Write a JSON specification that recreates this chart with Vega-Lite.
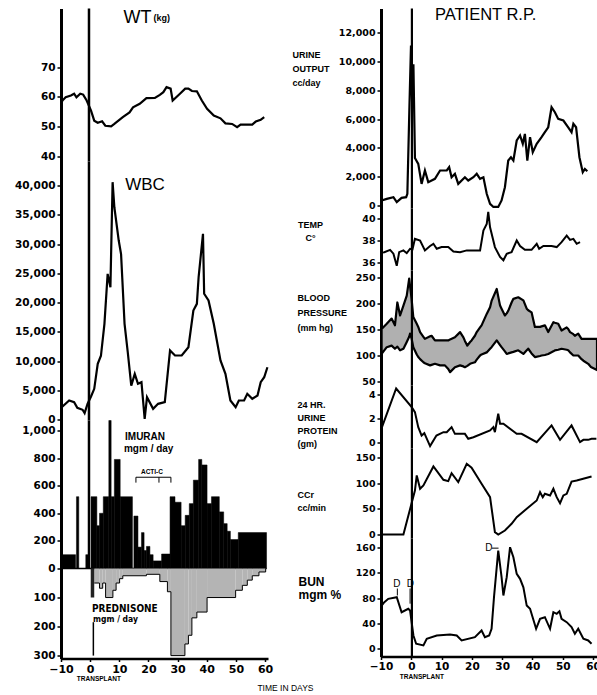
{
"$schema": "https://vega.github.io/schema/vega-lite/v6.json",
"background": "white",
"padding": {"left": 14, "top": 6.5, "right": 0, "bottom": 2},
"autosize": {"type": "pad"},
"title": {"text": "TIME IN DAYS", "orient": "bottom", "anchor": "middle", "font": "Liberation Sans", "fontSize": 8.5, "fontWeight": "normal", "color": "black", "dx": -22, "offset": 2},
"config": {
  "view": {"stroke": null},
  "font": "Liberation Sans",
  "axis": {"domainColor": "black", "domainWidth": 3, "tickColor": "black", "tickWidth": 1.5, "tickSize": 4, "labelColor": "black", "labelFont": "DejaVu Sans", "labelFontWeight": "bold", "labelFontSize": 10.5, "labelPadding": 2, "grid": false, "titleColor": "black", "labelFlush": false, "labelOverlap": false, "labelBound": false}
},
"datasets": {
  "wt": [{"day":-10,"v":57.7},{"day":-9.5,"v":58.8},{"day":-8.4,"v":59.9},{"day":-6.6,"v":60.5},{"day":-5.5,"v":61.1},{"day":-4.7,"v":59.9},{"day":-3.4,"v":61.1},{"day":-2.4,"v":60.8},{"day":-1.2,"v":58.8},{"day":0.3,"v":55.4},{"day":1.4,"v":52.0},{"day":2.6,"v":51.3},{"day":4.1,"v":51.8},{"day":5.2,"v":50.3},{"day":7.2,"v":50.1},{"day":8.3,"v":50.9},{"day":11.2,"v":53.2},{"day":13.5,"v":54.8},{"day":14.7,"v":56.5},{"day":17.0,"v":57.7},{"day":19.3,"v":59.6},{"day":22.2,"v":59.7},{"day":23.9,"v":60.7},{"day":25.1,"v":61.6},{"day":26.2,"v":63.3},{"day":27.6,"v":62.8},{"day":28.3,"v":58.8},{"day":30.8,"v":61.1},{"day":32.6,"v":62.8},{"day":33.7,"v":62.8},{"day":34.9,"v":62.0},{"day":36.6,"v":61.9},{"day":38.3,"v":58.8},{"day":40.1,"v":56.0},{"day":42.4,"v":53.7},{"day":44.7,"v":52.8},{"day":46.4,"v":51.1},{"day":48.7,"v":50.9},{"day":50.4,"v":49.8},{"day":51.6,"v":50.7},{"day":55.6,"v":50.7},{"day":56.8,"v":51.7},{"day":58.5,"v":52.3},{"day":59.7,"v":53.2}],
  "wbc": [{"day":-10,"v":2300},{"day":-9.5,"v":2220},{"day":-7.2,"v":3250},{"day":-5.5,"v":2960},{"day":-4.4,"v":2000},{"day":-2.6,"v":1660},{"day":-1.9,"v":1080},{"day":-0.9,"v":2680},{"day":0.3,"v":3930},{"day":1.4,"v":5250},{"day":2.6,"v":9520},{"day":3.7,"v":10900},{"day":4.9,"v":16360},{"day":6.0,"v":24900},{"day":6.95,"v":22600},{"day":7.7,"v":40580},{"day":8.3,"v":36300},{"day":9.8,"v":30600},{"day":10.6,"v":28300},{"day":11.8,"v":16360},{"day":12.9,"v":11500},{"day":14.1,"v":5800},{"day":15.3,"v":7800},{"day":16.4,"v":6100},{"day":17.6,"v":6380},{"day":18.7,"v":120},{"day":19.5,"v":3810},{"day":21.6,"v":1830},{"day":23.3,"v":2680},{"day":25.6,"v":2960},{"day":27.4,"v":11800},{"day":29.1,"v":10940},{"day":31.4,"v":10940},{"day":33.7,"v":12360},{"day":35.4,"v":18640},{"day":36.6,"v":19780},{"day":37.2,"v":24330},{"day":38.7,"v":31750},{"day":39.1,"v":21500},{"day":40.6,"v":20350},{"day":42.4,"v":16360},{"day":44.7,"v":10090},{"day":46.4,"v":7800},{"day":48.1,"v":3250},{"day":49.9,"v":2100},{"day":51.0,"v":3250},{"day":52.8,"v":3250},{"day":53.9,"v":4390},{"day":55.6,"v":3540},{"day":57.4,"v":4100},{"day":58.5,"v":6380},{"day":59.7,"v":7230},{"day":60.8,"v":8940}],
  "imu": [{"day":-10,"day2":-5,"v":100},{"day":-4.7,"day2":-3.9,"v":520},{"day":-1.5,"day2":-0.6,"v":100},{"day":0.3,"day2":2.3,"v":520},{"day":2.3,"day2":3.2,"v":310},{"day":3.2,"day2":4.5,"v":400},{"day":4.5,"day2":6.4,"v":520},{"day":6.4,"day2":7.2,"v":1072},{"day":7.2,"day2":8.3,"v":520},{"day":8.3,"day2":10.3,"v":790},{"day":10.3,"day2":14.5,"v":520},{"day":15.0,"day2":16.4,"v":380},{"day":16.4,"day2":17.6,"v":155},{"day":17.6,"day2":18.5,"v":260},{"day":18.5,"day2":19.3,"v":130},{"day":19.3,"day2":20.5,"v":160},{"day":20.5,"day2":21.6,"v":100},{"day":21.6,"day2":24.5,"v":55},{"day":24.5,"day2":27.4,"v":105},{"day":27.4,"day2":29.1,"v":520},{"day":29.1,"day2":31.2,"v":480},{"day":31.2,"day2":32.6,"v":310},{"day":32.6,"day2":34.0,"v":385},{"day":34.0,"day2":35.4,"v":470},{"day":35.4,"day2":37.2,"v":640},{"day":37.2,"day2":38.3,"v":790},{"day":38.3,"day2":40.1,"v":750},{"day":40.1,"day2":41.6,"v":470},{"day":41.6,"day2":44.3,"v":520},{"day":44.3,"day2":45.8,"v":410},{"day":45.8,"day2":47.0,"v":325},{"day":47.0,"day2":48.1,"v":270},{"day":48.1,"day2":50.8,"v":210},{"day":50.8,"day2":60.5,"v":260}],
  "pred": [{"day":1.4,"day2":3.2,"v":50},{"day":3.2,"day2":4.3,"v":68},{"day":4.3,"day2":5.3,"v":50},{"day":5.3,"day2":7.8,"v":100},{"day":7.8,"day2":8.9,"v":75},{"day":8.9,"day2":10.1,"v":50},{"day":10.1,"day2":11.2,"v":35},{"day":11.2,"day2":19.3,"v":25},{"day":19.3,"day2":23.9,"v":20},{"day":23.9,"day2":26.5,"v":45},{"day":26.5,"day2":27.7,"v":80},{"day":27.7,"day2":32.5,"v":300},{"day":32.5,"day2":33.7,"v":260},{"day":33.7,"day2":34.9,"v":230},{"day":34.9,"day2":36.6,"v":170},{"day":36.6,"day2":40.1,"v":150},{"day":40.1,"day2":49.9,"v":100},{"day":49.9,"day2":52.2,"v":75},{"day":52.2,"day2":53.9,"v":58},{"day":53.9,"day2":55.6,"v":40},{"day":55.6,"day2":57.9,"v":25},{"day":57.9,"day2":60.2,"v":12},{"day":60.2,"day2":60.2,"v":0}],
  "urine": [{"day":-9.8,"v":350},{"day":-8.1,"v":460},{"day":-5.9,"v":580},{"day":-4.8,"v":230},{"day":-3.2,"v":530},{"day":-1.7,"v":580},{"day":-1.3,"v":810},{"day":-0.6,"v":7000},{"day":-0.1,"v":11100},{"day":0.3,"v":6800},{"day":0.7,"v":9800},{"day":1.2,"v":3300},{"day":2.3,"v":2890},{"day":3.4,"v":1500},{"day":4.5,"v":2430},{"day":5.6,"v":1620},{"day":7.8,"v":1850},{"day":9.5,"v":2430},{"day":11.7,"v":2430},{"day":12.5,"v":2660},{"day":13.3,"v":1960},{"day":14.4,"v":2200},{"day":15.5,"v":1500},{"day":17.7,"v":1960},{"day":18.8,"v":1735},{"day":20.5,"v":1960},{"day":21.6,"v":2200},{"day":22.7,"v":1850},{"day":23.8,"v":1960},{"day":24.9,"v":810},{"day":26.0,"v":120},{"day":27.1,"v":-100},{"day":28.7,"v":-100},{"day":29.8,"v":350},{"day":30.9,"v":1270},{"day":32.0,"v":3120},{"day":32.9,"v":3350},{"day":33.7,"v":3120},{"day":34.8,"v":4510},{"day":35.9,"v":4860},{"day":36.8,"v":4280},{"day":37.5,"v":4970},{"day":38.3,"v":3120},{"day":39.2,"v":4740},{"day":40.1,"v":3700},{"day":41.4,"v":4280},{"day":43.0,"v":4740},{"day":44.1,"v":5090},{"day":45.2,"v":5430},{"day":46.3,"v":6820},{"day":47.4,"v":6475},{"day":48.5,"v":6010},{"day":50.2,"v":5900},{"day":51.8,"v":5430},{"day":52.9,"v":5090},{"day":53.5,"v":5670},{"day":54.4,"v":5430},{"day":55.5,"v":3350},{"day":56.6,"v":2310},{"day":57.3,"v":2540},{"day":58.1,"v":2380}],
  "temp": [{"day":-9.8,"v":36.9},{"day":-8.9,"v":36.94},{"day":-7.0,"v":37.15},{"day":-5.9,"v":36.8},{"day":-4.8,"v":35.7},{"day":-4.0,"v":36.94},{"day":-2.6,"v":37.1},{"day":-1.5,"v":36.85},{"day":-0.4,"v":37.25},{"day":0.4,"v":37.2},{"day":1.2,"v":38.15},{"day":2.9,"v":38.0},{"day":4.5,"v":37.1},{"day":6.2,"v":37.5},{"day":7.3,"v":37.7},{"day":8.4,"v":37.25},{"day":10.0,"v":37.4},{"day":12.2,"v":37.4},{"day":13.9,"v":37.0},{"day":16.1,"v":36.94},{"day":18.3,"v":37.1},{"day":21.0,"v":37.1},{"day":22.7,"v":37.1},{"day":23.8,"v":38.9},{"day":24.9,"v":39.5},{"day":25.4,"v":40.6},{"day":26.0,"v":39.2},{"day":27.6,"v":37.4},{"day":29.3,"v":36.5},{"day":30.4,"v":36.2},{"day":31.5,"v":36.8},{"day":33.1,"v":36.94},{"day":34.8,"v":38.0},{"day":35.9,"v":37.5},{"day":37.5,"v":37.15},{"day":39.7,"v":37.15},{"day":41.4,"v":37.7},{"day":42.2,"v":37.25},{"day":43.6,"v":37.5},{"day":46.3,"v":37.5},{"day":48.0,"v":37.4},{"day":49.6,"v":37.85},{"day":51.3,"v":38.45},{"day":52.4,"v":38.06},{"day":53.5,"v":38.15},{"day":54.6,"v":37.7},{"day":55.7,"v":37.85}],
  "bp": [{"day":-9.8,"v":151,"v2":103},{"day":-8.1,"v":161,"v2":116},{"day":-6.5,"v":171,"v2":119},{"day":-5.4,"v":158,"v2":113},{"day":-4.6,"v":202,"v2":117},{"day":-3.7,"v":177,"v2":110},{"day":-2.6,"v":196,"v2":113},{"day":-1.5,"v":215,"v2":126},{"day":-0.7,"v":248,"v2":136},{"day":-0.4,"v":233,"v2":142},{"day":0.1,"v":209,"v2":133},{"day":0.66,"v":174,"v2":116},{"day":1.8,"v":161,"v2":102},{"day":2.3,"v":155,"v2":97},{"day":2.9,"v":145,"v2":93},{"day":4.0,"v":136,"v2":87},{"day":4.5,"v":132,"v2":85},{"day":6.2,"v":137,"v2":81},{"day":6.7,"v":138,"v2":82},{"day":7.8,"v":129,"v2":84},{"day":9.5,"v":129,"v2":81},{"day":11.1,"v":129,"v2":81},{"day":12.2,"v":129,"v2":74},{"day":12.8,"v":131,"v2":68},{"day":14.4,"v":135,"v2":77.5},{"day":16.1,"v":145,"v2":81},{"day":17.2,"v":135,"v2":79},{"day":17.7,"v":128,"v2":77.5},{"day":18.5,"v":119,"v2":80},{"day":19.4,"v":126,"v2":84},{"day":19.9,"v":129,"v2":85},{"day":21.0,"v":138,"v2":87},{"day":21.6,"v":145,"v2":92},{"day":22.7,"v":154,"v2":100},{"day":23.2,"v":158,"v2":102},{"day":24.9,"v":180,"v2":106},{"day":26.0,"v":193,"v2":113},{"day":26.5,"v":205,"v2":116},{"day":28.2,"v":228,"v2":129},{"day":29.3,"v":196,"v2":120},{"day":29.8,"v":190,"v2":116},{"day":30.9,"v":177,"v2":108},{"day":31.5,"v":181,"v2":103},{"day":32.0,"v":186,"v2":104},{"day":33.1,"v":202,"v2":106},{"day":33.7,"v":209,"v2":107},{"day":35.3,"v":212,"v2":110},{"day":37.0,"v":206,"v2":103},{"day":38.1,"v":190,"v2":110},{"day":38.6,"v":187,"v2":113},{"day":39.7,"v":183,"v2":104},{"day":40.8,"v":155,"v2":97},{"day":42.5,"v":155,"v2":99},{"day":43.0,"v":156,"v2":100},{"day":44.1,"v":158,"v2":101},{"day":45.2,"v":145,"v2":103},{"day":46.9,"v":164,"v2":108},{"day":47.4,"v":163,"v2":110},{"day":48.5,"v":161,"v2":111},{"day":49.6,"v":148,"v2":113},{"day":51.3,"v":154,"v2":111},{"day":51.8,"v":151,"v2":110},{"day":52.4,"v":145,"v2":106},{"day":53.5,"v":141,"v2":100},{"day":54.0,"v":138,"v2":100},{"day":55.1,"v":142,"v2":100},{"day":56.2,"v":132,"v2":93},{"day":56.8,"v":132,"v2":90},{"day":58.4,"v":132,"v2":84},{"day":59.3,"v":132,"v2":78},{"day":61.3,"v":132,"v2":72}],
  "prot": [{"day":-9.8,"v":1.2},{"day":-5.0,"v":4.5},{"day":0.13,"v":2.94},{"day":1.2,"v":2.53},{"day":2.3,"v":1.28},{"day":3.4,"v":0.58},{"day":4.3,"v":0.78},{"day":6.2,"v":-0.3},{"day":8.3,"v":0.58},{"day":10.6,"v":0.86},{"day":11.7,"v":0.86},{"day":13.3,"v":1.28},{"day":14.4,"v":0.72},{"day":17.7,"v":0.72},{"day":18.8,"v":0.31},{"day":20.5,"v":0.44},{"day":26.0,"v":1.0},{"day":27.1,"v":1.28},{"day":27.6,"v":0.86},{"day":28.7,"v":2.4},{"day":29.3,"v":1.56},{"day":30.4,"v":1.56},{"day":34.8,"v":0.72},{"day":36.4,"v":0.72},{"day":41.4,"v":0.03},{"day":46.3,"v":1.42},{"day":49.1,"v":0.22},{"day":52.9,"v":1.42},{"day":55.7,"v":0.03},{"day":56.8,"v":0.22},{"day":58.4,"v":0.22},{"day":59.5,"v":0.31},{"day":61.1,"v":0.31}],
  "ccr": [{"day":-9.8,"v":0},{"day":-2.6,"v":0},{"day":1.2,"v":85.7},{"day":1.8,"v":115},{"day":2.9,"v":89},{"day":4.0,"v":95.5},{"day":7.3,"v":132.5},{"day":10.6,"v":106.6},{"day":12.2,"v":103.9},{"day":13.3,"v":119.4},{"day":15.5,"v":102},{"day":18.3,"v":137.7},{"day":19.9,"v":130},{"day":23.2,"v":98.8},{"day":26.0,"v":72.7},{"day":27.6,"v":4.5},{"day":28.7,"v":0},{"day":30.9,"v":7.8},{"day":33.1,"v":20.8},{"day":34.8,"v":33.7},{"day":38.1,"v":50},{"day":41.4,"v":66.2},{"day":42.5,"v":82.4},{"day":43.4,"v":72.7},{"day":44.1,"v":79.3},{"day":45.8,"v":76},{"day":46.9,"v":89},{"day":48.0,"v":72.7},{"day":49.1,"v":61},{"day":50.2,"v":76},{"day":51.3,"v":79.3},{"day":52.9,"v":103},{"day":54.6,"v":105},{"day":59.5,"v":113}],
  "bun": [{"day":-9.8,"v":68},{"day":-8.9,"v":73.4},{"day":-7.6,"v":78.7},{"day":-4.8,"v":81.3},{"day":-3.2,"v":57.5},{"day":-1.0,"v":62.9},{"day":-0.4,"v":60.2},{"day":0.7,"v":20.6},{"day":1.6,"v":7.5},{"day":4.0,"v":4.8},{"day":5.1,"v":15.4},{"day":8.4,"v":20.6},{"day":12.8,"v":22.2},{"day":15.0,"v":20.6},{"day":16.6,"v":12.7},{"day":21.0,"v":17.9},{"day":23.2,"v":28.5},{"day":24.3,"v":17.9},{"day":25.7,"v":20.6},{"day":26.5,"v":31.2},{"day":27.3,"v":81.3},{"day":28.7,"v":155},{"day":29.8,"v":113},{"day":30.4,"v":84},{"day":31.5,"v":113},{"day":32.6,"v":160.5},{"day":33.7,"v":144.6},{"day":34.8,"v":118.3},{"day":35.9,"v":110.4},{"day":37.0,"v":97},{"day":38.1,"v":68},{"day":39.2,"v":62.9},{"day":41.2,"v":31.2},{"day":42.5,"v":47},{"day":44.1,"v":49.6},{"day":45.8,"v":31.2},{"day":46.9,"v":57.5},{"day":48.0,"v":55},{"day":48.9,"v":59},{"day":49.6,"v":47},{"day":51.3,"v":41.7},{"day":52.9,"v":33.8},{"day":54.0,"v":23.3},{"day":55.1,"v":31.2},{"day":56.8,"v":15.4},{"day":58.4,"v":12.7},{"day":59.5,"v":7.5}]
},
"hconcat": [
 {
  "vconcat": [
   {
    "width": 207, "height": 153,
    "encoding": {
      "x": {"field": "day", "type": "quantitative", "scale": {"domain": [-10, 61], "nice": false, "zero": false}, "axis": null},
      "y": {"field": "v", "type": "quantitative", "scale": {"domain": [38.25, 89.8], "nice": false, "zero": false}, "axis": {"values": [40, 50, 60, 70], "title": null}}
    },
    "layer": [
      {"data": {"name": "wt"}, "mark": {"type": "line", "color": "black", "strokeWidth": 2.2}},
      {"data": {"values": [{"day": -0.4, "v": 38.25, "v2": 89.8}]}, "mark": {"type": "rule", "color": "black", "strokeWidth": 2.5}, "encoding": {"y2": {"field": "v2"}}},
      {"data": {"values": [{"day": 11.4, "v": 85.05, "t": "WT"}]}, "mark": {"type": "text", "align": "left", "baseline": "alphabetic", "fontSize": 18, "font": "Liberation Sans", "color": "black"}, "encoding": {"text": {"field": "t"}}},
      {"data": {"values": [{"day": 21.7, "v": 85.7, "t": "(kg)"}]}, "mark": {"type": "text", "align": "left", "baseline": "alphabetic", "fontSize": 9, "fontWeight": "bold", "font": "Liberation Sans", "color": "black"}, "encoding": {"text": {"field": "t"}}}
    ]
   },
   {
    "width": 207, "height": 259,
    "encoding": {
      "x": {"field": "day", "type": "quantitative", "scale": {"domain": [-10, 61], "nice": false, "zero": false}, "axis": null},
      "y": {"field": "v", "type": "quantitative", "scale": {"domain": [-171, 44118], "nice": false, "zero": false}, "axis": {"values": [0, 5000, 10000, 15000, 20000, 25000, 30000, 35000, 40000], "format": ",d", "title": null}}
    },
    "layer": [
      {"data": {"name": "wbc"}, "mark": {"type": "line", "color": "black", "strokeWidth": 2.2}},
      {"data": {"values": [{"day": -0.4, "v": -171, "v2": 44118}]}, "mark": {"type": "rule", "color": "black", "strokeWidth": 2.5}, "encoding": {"y2": {"field": "v2"}}},
      {"data": {"values": [{"day": 12.0, "v": 39160, "t": "WBC"}]}, "mark": {"type": "text", "align": "left", "baseline": "alphabetic", "fontSize": 17, "font": "Liberation Sans", "color": "black"}, "encoding": {"text": {"field": "t"}}}
    ]
   },
   {
    "width": 207, "height": 148,
    "encoding": {
      "x": {"field": "day", "type": "quantitative", "scale": {"domain": [-10, 61], "nice": false, "zero": false}, "axis": null},
      "y": {"field": "v", "type": "quantitative", "scale": {"domain": [0, 1072], "nice": false, "zero": false}, "axis": {"values": [0, 200, 400, 600, 800, 1000], "format": ",d", "title": null}}
    },
    "layer": [
      {"data": {"name": "imu"}, "mark": {"type": "rect", "color": "black", "stroke": "black", "strokeWidth": 0.5}, "encoding": {"x2": {"field": "day2"}, "y2": {"datum": 0}}},
      {"data": {"values": [{"day": -10, "day2": 60.5, "v": 0}]}, "mark": {"type": "rule", "color": "black", "strokeWidth": 1.5}, "encoding": {"x2": {"field": "day2"}}},
      {"data": {"values": [{"day": -0.4, "v": 0, "v2": 1072}]}, "mark": {"type": "rule", "color": "black", "strokeWidth": 2.5}, "encoding": {"y2": {"field": "v2"}}},
      {"data": {"values": [{"day": 15.7, "day2": 27.7, "v": 661}]}, "mark": {"type": "rule", "color": "black", "strokeWidth": 1}, "encoding": {"x2": {"field": "day2"}}},
      {"data": {"values": [{"day": 15.7, "v": 661, "v2": 622}, {"day": 23.6, "v": 661, "v2": 622}, {"day": 27.7, "v": 661, "v2": 622}]}, "mark": {"type": "rule", "color": "black", "strokeWidth": 1}, "encoding": {"y2": {"field": "v2"}}},
      {"data": {"values": [{"day": 21.2, "v": 682, "t": "ACTI-C"}]}, "mark": {"type": "text", "align": "center", "baseline": "alphabetic", "fontSize": 6.5, "fontWeight": "bold", "font": "Liberation Sans", "color": "black"}, "encoding": {"text": {"field": "t"}}},
      {"data": {"values": [{"day": 11.96, "v": 928, "t": "IMURAN"}]}, "mark": {"type": "text", "align": "left", "baseline": "alphabetic", "fontSize": 10, "fontWeight": "bold", "font": "Liberation Sans", "color": "black"}, "encoding": {"text": {"field": "t"}}},
      {"data": {"values": [{"day": 11.6, "v": 841, "t": "mgm / day"}]}, "mark": {"type": "text", "align": "left", "baseline": "alphabetic", "fontSize": 10, "fontWeight": "bold", "font": "Liberation Sans", "color": "black"}, "encoding": {"text": {"field": "t"}}}
    ]
   },
   {
    "width": 207, "height": 90,
    "encoding": {
      "x": {"field": "day", "type": "quantitative", "scale": {"domain": [-10, 61], "nice": false, "zero": false}, "axis": {"values": [-10, 0, 10, 20, 30, 40, 50, 60], "labelFontSize": 11, "domainWidth": 2.5, "tickSize": 3, "title": null}},
      "y": {"field": "v", "type": "quantitative", "scale": {"domain": [0, 310], "nice": false, "zero": false, "reverse": true}, "axis": {"values": [100, 200, 300], "title": null}}
    },
    "layer": [
      {"data": {"name": "pred"}, "mark": {"type": "rect", "color": "#b4b4b4"}, "encoding": {"x2": {"field": "day2"}, "y2": {"datum": 0}}},
      {"data": {"name": "pred"}, "mark": {"type": "line", "color": "black", "strokeWidth": 1, "interpolate": "step-after"}},
      {"data": {"values": [{"day": 0.2, "day2": 1.4, "v": 100}]}, "mark": {"type": "rect", "color": "#222222"}, "encoding": {"x2": {"field": "day2"}, "y2": {"datum": 0}}},
      {"data": {"values": [{"day": 1.1, "v": 185, "v2": 300}]}, "mark": {"type": "rule", "color": "black", "strokeWidth": 1.5}, "encoding": {"y2": {"field": "v2"}}},
      {"data": {"values": [{"day": 0.6, "v": 151, "t": "PREDNISONE"}]}, "mark": {"type": "text", "align": "left", "baseline": "alphabetic", "fontSize": 10, "fontWeight": "bold", "font": "Liberation Sans Narrow, DejaVu Sans Condensed, Liberation Sans", "color": "black"}, "encoding": {"text": {"field": "t"}}},
      {"data": {"values": [{"day": 1.0, "v": 185, "t": "mgm / day"}]}, "mark": {"type": "text", "align": "left", "baseline": "alphabetic", "fontSize": 8.5, "fontWeight": "bold", "font": "Liberation Sans Narrow, DejaVu Sans Condensed, Liberation Sans", "color": "black"}, "encoding": {"text": {"field": "t"}}},
      {"data": {"values": [{"day": 3.0, "v": 310, "t": "TRANSPLANT"}]}, "mark": {"type": "text", "align": "center", "baseline": "middle", "dy": 20, "fontSize": 6.5, "fontWeight": "bold", "font": "Liberation Sans", "color": "black"}, "encoding": {"text": {"field": "t"}}}
    ]
   }
  ],
  "spacing": 0, "bounds": "flush",
  "resolve": {"scale": {"x": "independent", "y": "independent"}}
 },
 {
  "vconcat": [
   {
    "width": 216, "height": 200,
    "encoding": {
      "x": {"field": "day", "type": "quantitative", "scale": {"domain": [-10, 61.3], "nice": false, "zero": false}, "axis": null},
      "y": {"field": "v", "type": "quantitative", "scale": {"domain": [-208, 13672], "nice": false, "zero": false}, "axis": {"values": [0, 2000, 4000, 6000, 8000, 10000, 12000], "format": ",d", "labelFontSize": 9.5, "title": ["URINE", "OUTPUT", "cc/day"], "titleFont": "Liberation Sans", "titleFontWeight": "bold", "titleFontSize": 9, "titleAngle": 0, "titleAlign": "left", "titleBaseline": "top", "titleX": -89, "titleY": 42, "titleLineHeight": 14}}
    },
    "layer": [
      {"data": {"name": "urine"}, "mark": {"type": "line", "color": "black", "strokeWidth": 2.2}},
      {"data": {"values": [{"day": 0.2, "v": -208, "v2": 13672}]}, "mark": {"type": "rule", "color": "black", "strokeWidth": 2.2}, "encoding": {"y2": {"field": "v2"}}},
      {"data": {"values": [{"day": 7.8, "v": 12840, "t": "PATIENT R.P."}]}, "mark": {"type": "text", "align": "left", "baseline": "alphabetic", "fontSize": 16.5, "font": "Liberation Sans", "color": "black"}, "encoding": {"text": {"field": "t"}}}
    ]
   },
   {
    "width": 216, "height": 62,
    "encoding": {
      "x": {"field": "day", "type": "quantitative", "scale": {"domain": [-10, 61.3], "nice": false, "zero": false}, "axis": null},
      "y": {"field": "v", "type": "quantitative", "scale": {"domain": [35.273, 40.909], "nice": false, "zero": false}, "axis": {"values": [36, 38, 40], "labelFontSize": 9.5, "title": ["TEMP", "C°"], "titleFont": "Liberation Sans", "titleFontWeight": "bold", "titleFontSize": 9, "titleAngle": 0, "titleAlign": "center", "titleBaseline": "top", "titleX": -71, "titleY": 12, "titleLineHeight": 13}}
    },
    "layer": [
      {"data": {"name": "temp"}, "mark": {"type": "line", "color": "black", "strokeWidth": 2}},
      {"data": {"values": [{"day": 0.2, "v": 35.273, "v2": 40.909}]}, "mark": {"type": "rule", "color": "black", "strokeWidth": 2.2}, "encoding": {"y2": {"field": "v2"}}}
    ]
   },
   {
    "width": 216, "height": 115,
    "encoding": {
      "x": {"field": "day", "type": "quantitative", "scale": {"domain": [-10, 61.3], "nice": false, "zero": false}, "axis": null},
      "y": {"field": "v", "type": "quantitative", "scale": {"domain": [42.3, 263.5], "nice": false, "zero": false}, "axis": {"values": [50, 100, 150, 200, 250], "labelFontSize": 9.5, "title": ["BLOOD", "PRESSURE", "(mm hg)"], "titleFont": "Liberation Sans", "titleFontWeight": "bold", "titleFontSize": 9, "titleAngle": 0, "titleAlign": "left", "titleBaseline": "top", "titleX": -84, "titleY": 23, "titleLineHeight": 15}}
    },
    "layer": [
      {"data": {"name": "bp"}, "mark": {"type": "area", "color": "#b0b0b0", "stroke": "black", "strokeWidth": 2.2, "strokeJoin": "round"}, "encoding": {"y2": {"field": "v2"}}},
      {"data": {"values": [{"day": 0.2, "v": 42.3, "v2": 263.5}]}, "mark": {"type": "rule", "color": "black", "strokeWidth": 2.2}, "encoding": {"y2": {"field": "v2"}}}
    ]
   },
   {
    "width": 216, "height": 63,
    "encoding": {
      "x": {"field": "day", "type": "quantitative", "scale": {"domain": [-10, 61.3], "nice": false, "zero": false}, "axis": null},
      "y": {"field": "v", "type": "quantitative", "scale": {"domain": [-0.5, 4.75], "nice": false, "zero": false}, "axis": {"values": [0, 2, 4], "labelFontSize": 9.5, "title": ["24 HR.", "URINE", "PROTEIN", "(gm)"], "titleFont": "Liberation Sans", "titleFontWeight": "bold", "titleFontSize": 9, "titleAngle": 0, "titleAlign": "left", "titleBaseline": "top", "titleX": -84, "titleY": 15, "titleLineHeight": 13}}
    },
    "layer": [
      {"data": {"name": "prot"}, "mark": {"type": "line", "color": "black", "strokeWidth": 2}},
      {"data": {"values": [{"day": 0.2, "v": -0.5, "v2": 4.75}]}, "mark": {"type": "rule", "color": "black", "strokeWidth": 2.2}, "encoding": {"y2": {"field": "v2"}}}
    ]
   },
   {
    "width": 216, "height": 90,
    "encoding": {
      "x": {"field": "day", "type": "quantitative", "scale": {"domain": [-10, 61.3], "nice": false, "zero": false}, "axis": null},
      "y": {"field": "v", "type": "quantitative", "scale": {"domain": [-7.8, 167.5], "nice": false, "zero": false}, "axis": {"values": [0, 50, 100, 150], "labelFontSize": 9.5, "title": ["CCr", "cc/min"], "titleFont": "Liberation Sans", "titleFontWeight": "bold", "titleFontSize": 9, "titleAngle": 0, "titleAlign": "left", "titleBaseline": "top", "titleX": -84, "titleY": 42, "titleLineHeight": 13}}
    },
    "layer": [
      {"data": {"name": "ccr"}, "mark": {"type": "line", "color": "black", "strokeWidth": 2}},
      {"data": {"values": [{"day": 0.2, "v": -7.8, "v2": 167.5}]}, "mark": {"type": "rule", "color": "black", "strokeWidth": 2.2}, "encoding": {"y2": {"field": "v2"}}}
    ]
   },
   {
    "width": 216, "height": 118,
    "encoding": {
      "x": {"field": "day", "type": "quantitative", "scale": {"domain": [-10, 61.3], "nice": false, "zero": false}, "axis": {"values": [-10, 0, 10, 20, 30, 40, 50, 60], "labelFontSize": 10.5, "domainWidth": 2.5, "tickSize": 3, "title": null}},
      "y": {"field": "v", "type": "quantitative", "scale": {"domain": [-12.7, 174.3], "nice": false, "zero": false}, "axis": {"values": [0, 40, 80, 120, 160], "labelFontSize": 9.5, "title": ["BUN", "mgm %"], "titleFont": "Liberation Sans", "titleFontWeight": "bold", "titleFontSize": 12, "titleAngle": 0, "titleAlign": "left", "titleBaseline": "top", "titleX": -83, "titleY": 38, "titleLineHeight": 13}}
    },
    "layer": [
      {"data": {"name": "bun"}, "mark": {"type": "line", "color": "black", "strokeWidth": 2}},
      {"data": {"values": [{"day": 0.2, "v": -12.7, "v2": 174.3}]}, "mark": {"type": "rule", "color": "black", "strokeWidth": 2.2}, "encoding": {"y2": {"field": "v2"}}},
      {"data": {"values": [{"day": -4.6, "v": 95, "v2": 84}, {"day": -0.4, "v": 95, "v2": 71}]}, "mark": {"type": "rule", "color": "black", "strokeWidth": 1}, "encoding": {"y2": {"field": "v2"}}},
      {"data": {"values": [{"day": 26.6, "day2": 28.8, "v": 159}]}, "mark": {"type": "rule", "color": "black", "strokeWidth": 1}, "encoding": {"x2": {"field": "day2"}}},
      {"data": {"values": [{"day": -4.8, "v": 97, "t": "D"}, {"day": -0.3, "v": 97, "t": "D"}, {"day": 25.6, "v": 155, "t": "D"}]}, "mark": {"type": "text", "align": "center", "baseline": "alphabetic", "fontSize": 10, "font": "Liberation Sans", "color": "black"}, "encoding": {"text": {"field": "t"}}},
      {"data": {"values": [{"day": 3.5, "v": -12.7, "t": "TRANSPLANT"}]}, "mark": {"type": "text", "align": "center", "baseline": "middle", "dy": 20, "fontSize": 6.5, "fontWeight": "bold", "font": "Liberation Sans", "color": "black"}, "encoding": {"text": {"field": "t"}}}
    ]
   }
  ],
  "spacing": 0, "bounds": "flush",
  "resolve": {"scale": {"x": "independent", "y": "independent"}}
 }
],
"spacing": 19
}
